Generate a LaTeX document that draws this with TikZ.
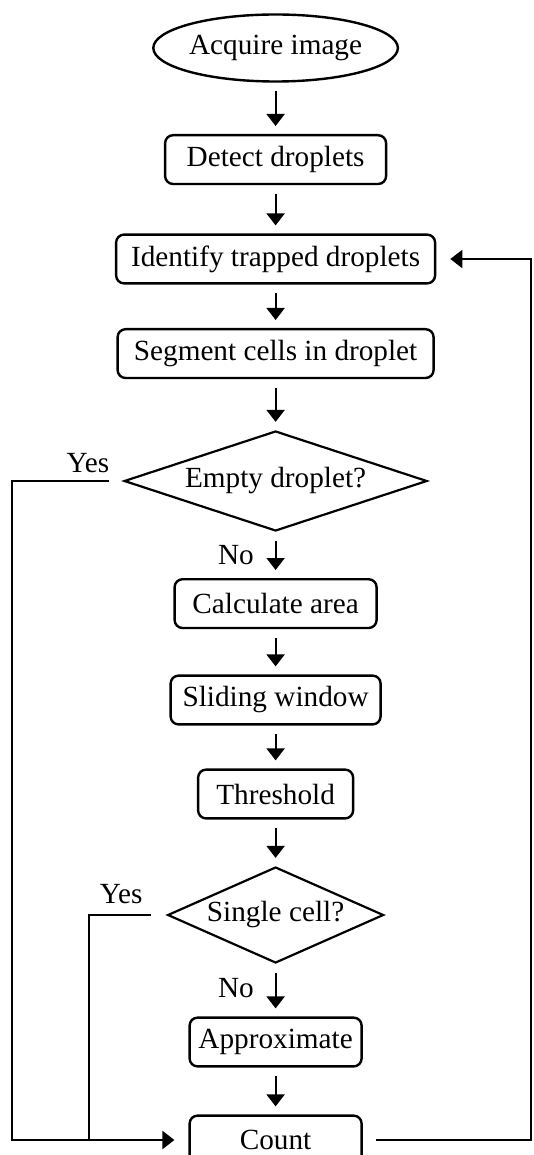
\documentclass[tikz,border=0pt]{standalone}
\usepackage{fontspec}
\setmainfont{Liberation Serif}
\usetikzlibrary{shapes.geometric,arrows.meta}

\tikzset{
	txt/.style={font=\fontsize{20.8}{25}\selectfont},
	stepbox/.style={txt, draw, line width=0.6mm, rounded corners=0.2cm, inner sep=0pt, minimum height=1.22cm},
	decision/.style={txt, draw, diamond, shape aspect=3, line width=0.55mm, inner sep=0pt},
	startstop/.style={txt, draw, ellipse, line width=0.6mm, inner sep=0pt},
	flow/.style={line width=0.5mm, -{Triangle[width=0.45cm,length=0.3cm]}, shorten <=0.22cm, shorten >=0.2cm},
	wire/.style={line width=0.5mm}
}

\begin{document}
\begin{tikzpicture}
			%%%%% START %%%%%
			\useasboundingbox (0, 0) rectangle (13.325, -28.875);
			
			\node[startstop, minimum width=5.375cm, minimum height=1.675cm] (acquire) at (6.89, -1.2) {Acquire image};
			\node[stepbox, minimum width=5.525cm] (detect) at (6.89, -3.99) {Detect droplets};
			\node[stepbox, minimum width=7.975cm] (identify) at (6.89, -6.475) {Identify trapped droplets};
			\node[stepbox, minimum width=7.9cm] (segment) at (6.89, -8.84) {Segment cells in droplet};
			\node[decision, minimum width=7.575cm, minimum height=2.5cm] (empty) at (6.89, -12.025) {Empty droplet?};
			
			\node[stepbox, minimum width=5.05cm] (area) at (6.89, -15.09) {Calculate area};
			\node[stepbox, minimum width=5.25cm] (window) at (6.89, -17.5) {Sliding window};
			\node[stepbox, minimum width=3.875cm] (threshold) at (6.89, -19.85) {Threshold};
			\node[decision, shape aspect=2.25, minimum width=5.4cm, minimum height=2.4cm] (single) at (6.89, -22.875) {Single cell?};
			
			\node[stepbox, minimum width=4.3cm] (approx) at (6.89, -26.05) {Approximate};
			\node[stepbox, minimum width=4.3cm] (count) at (6.89, -28.5) {Count};
			
			\node[txt] (yesempty) at (2.2, -11.575) {Yes};
			\node[txt] (noempty) at (5.9, -13.875) {No};
			\node[txt] (yessingle) at (3.03, -22.35) {Yes};
			\node[txt] (nosingle) at (5.9, -24.7) {No};
			
			\coordinate (lhs) at (0.3, 0);
			\coordinate (lhsingle) at (2.225, 0);
			\coordinate (rhs) at (13.28, 0);
			
			\draw[flow] (acquire) -- (detect);
			\draw[flow] (detect) -- (identify);
			\draw[flow] (identify) -- (segment);
			\draw[flow] (segment) -- (empty);
			\draw[flow] (empty) -- (area);
			\draw[flow] (area) -- (window);
			\draw[flow] (window) -- (threshold);
			\draw[flow] (threshold) -- (single);
			\draw[flow] (single) -- (approx);
			\draw[flow] (approx) -- (count);
			
			% yes branches
			\draw[flow, shorten <=0.35cm, shorten >=0.35cm] (empty.west) -- (empty.west -| lhs) -- (count.west -| lhs) -- (count.west);
			\draw[wire, shorten <=0.4cm] (single.west) -- (single.west -| lhsingle) -- (count.west -| lhsingle);
			
			% back to the next droplet
			\draw[flow, shorten <=0.33cm, shorten >=0.35cm] (count.east) -- (count.east -| rhs) -- (identify.east -| rhs) -- (identify.east);
			
			%%%%% END %%%%%
\end{tikzpicture}
\end{document}
